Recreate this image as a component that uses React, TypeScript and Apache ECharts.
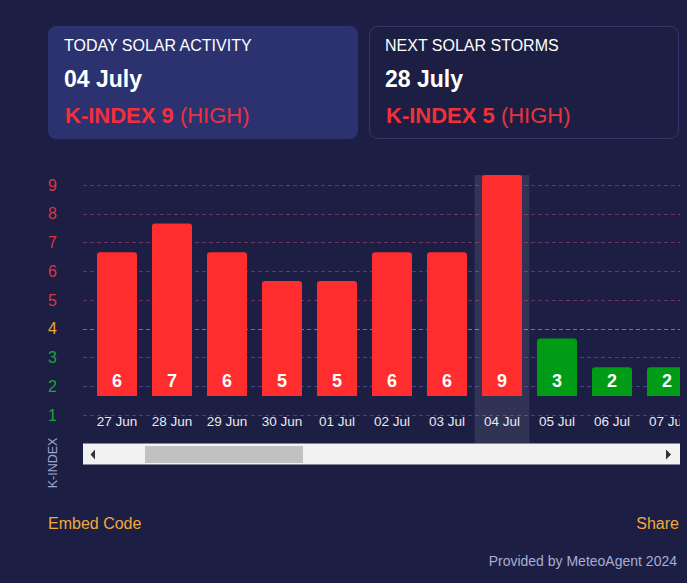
import React, { useEffect, useRef } from "react";
import * as echarts from "echarts";

const dates = ["27 Jun", "28 Jun", "29 Jun", "30 Jun", "01 Jul", "02 Jul", "03 Jul", "04 Jul", "05 Jul", "06 Jul", "07 Jul"];
const kIndex = [6, 7, 6, 5, 5, 6, 6, 9, 3, 2, 2];
const highlightIndex = 7;

const todayTitle = "TODAY SOLAR ACTIVITY";
const todayDate = "04 July";
const todayK = 9;
const todayLevel = "HIGH";
const nextTitle = "NEXT SOLAR STORMS";
const nextDate = "28 July";
const nextK = 5;
const nextLevel = "HIGH";

const BG = "#1c1f43";
const RED = "#ff2d2d";
const GREEN = "#009c16";
const FONT = "'Liberation Sans', Arial, sans-serif";

const barColor = (v: number) => (v >= 4 ? RED : GREEN);
const labelColor = (v: number) => (v >= 5 ? "#d8364b" : v === 4 ? "#e8a93a" : "#1ea23c");

export default function App() {
  const ref = useRef<HTMLDivElement>(null);
  useEffect(() => {
    document.body.style.margin = "0";
    document.body.style.background = BG;
    const chart = echarts.init(ref.current!, null, { renderer: "svg" });
    const card = (title: string, date: string, k: number, level: string, x: number) => [
      { type: "text", x, y: 45, style: { text: title, fill: "#ffffff", fontSize: 16, fontFamily: FONT, verticalAlign: "middle" } },
      { type: "text", x, y: 79, style: { text: date, fill: "#ffffff", fontSize: 23, fontWeight: "bold", fontFamily: FONT, verticalAlign: "middle" } },
      {
        type: "text", x: x + 1, y: 115,
        style: {
          text: `{a|K-INDEX ${k}}{s| }{b|(${level})}`,
          verticalAlign: "middle",
          rich: {
            a: { fill: "#f2303a", fontSize: 22, fontWeight: "bold", fontFamily: FONT },
            s: { fontSize: 22, fontFamily: FONT },
            b: { fill: "#e8333f", fontSize: 22, fontFamily: FONT },
          },
        },
      },
    ];
    chart.setOption({
      animation: false,
      backgroundColor: BG,
      textStyle: { fontFamily: FONT },
      grid: [
        { left: 89.5, width: 605, top: 175, bottom: 187, outerBoundsMode: "none", containLabel: false },
        { left: 83, right: 7, top: 185, bottom: 168, outerBoundsMode: "none", containLabel: false },
        { left: 89.5, width: 605, top: 175, bottom: 140, outerBoundsMode: "none", containLabel: false },
      ],
      xAxis: [
        {
          gridIndex: 0, type: "category", data: dates,
          axisLine: { show: false }, axisTick: { show: false },
          axisLabel: { color: "#e9e9f1", fontSize: 13.5, margin: 18, fontFamily: FONT },
        },
        { gridIndex: 1, type: "category", data: dates, show: false },
        {
          gridIndex: 2, type: "category", data: dates,
          axisLine: { show: false }, axisTick: { show: false }, axisLabel: { show: false }, splitLine: { show: false },
          axisPointer: {
            show: true, type: "shadow", value: highlightIndex, status: "show", z: 0,
            triggerTooltip: false, label: { show: false },
            shadowStyle: { color: "rgba(255,255,255,0.09)" },
          },
        },
      ],
      yAxis: [
        { gridIndex: 0, type: "value", min: 1, max: 8.69, show: false },
        {
          gridIndex: 1, type: "value", min: 1, max: 9, interval: 1,
          axisLine: { show: false }, axisTick: { show: false },
          axisLabel: { fontSize: 16, margin: 26, fontFamily: FONT, color: (v: number) => labelColor(Number(v)) },
          splitLine: {
            lineStyle: {
              type: [4, 3], width: 1,
              color: ["#44467f", "#44467f", "#44467f", "#857656", "#74335a", "#74335a", "#74335a", "#74335a", "#74335a"],
            },
          },
        },
        { gridIndex: 2, type: "value", min: 0, max: 1, show: false },
      ],
      series: [
        {
          type: "bar", xAxisIndex: 0, yAxisIndex: 0, barWidth: 40, z: 3,
          data: kIndex.map((v) => ({ value: v, itemStyle: { color: barColor(v) } })),
          itemStyle: { borderRadius: [3, 3, 0, 0] },
          label: { show: true, position: "insideBottom", distance: 6, color: "#ffffff", fontSize: 18, fontWeight: "bold", fontFamily: FONT },
        },
      ],
      graphic: [
        { type: "rect", shape: { x: 48, y: 26, width: 310, height: 113, r: 8 }, style: { fill: "#2c3270" } },
        { type: "rect", shape: { x: 369.5, y: 26.5, width: 309, height: 112, r: 8 }, style: { fill: BG, stroke: "#33376e", lineWidth: 1 } },
        ...card(todayTitle, todayDate, todayK, todayLevel, 64),
        ...card(nextTitle, nextDate, nextK, nextLevel, 385),
        { type: "rect", z: 100, shape: { x: 680, y: 165, width: 7, height: 278 }, style: { fill: BG } },
        { type: "text", x: 53, y: 463, rotation: Math.PI / 2, style: { text: "K-INDEX", fill: "#9ea3cf", fontSize: 12.5, fontFamily: FONT, align: "center", verticalAlign: "middle" } },
        { type: "rect", shape: { x: 83, y: 443.5, width: 597, height: 21 }, style: { fill: "#f2f2f2" } },
        { type: "rect", shape: { x: 145, y: 446, width: 158, height: 17 }, style: { fill: "#c1c1c1" } },
        { type: "polygon", shape: { points: [[95, 449.5], [95, 459.5], [90.5, 454.5]] }, style: { fill: "#333333" } },
        { type: "polygon", shape: { points: [[666, 449.5], [666, 459.5], [671, 454.5]] }, style: { fill: "#333333" } },
        { type: "text", x: 48, y: 523, style: { text: "Embed Code", fill: "#f2a93b", fontSize: 16, fontFamily: FONT, verticalAlign: "middle" } },
        { type: "text", x: 679, y: 523, style: { text: "Share", fill: "#f2a93b", fontSize: 16, fontFamily: FONT, align: "right", verticalAlign: "middle" } },
        { type: "text", x: 677, y: 561, style: { text: "Provided by MeteoAgent 2024", fill: "#a9acd4", fontSize: 14, fontFamily: FONT, align: "right", verticalAlign: "middle" } },
      ],
    });
    return () => chart.dispose();
  }, []);
  return <div ref={ref} style={{ width: 687, height: 583, background: BG }} />;
}
